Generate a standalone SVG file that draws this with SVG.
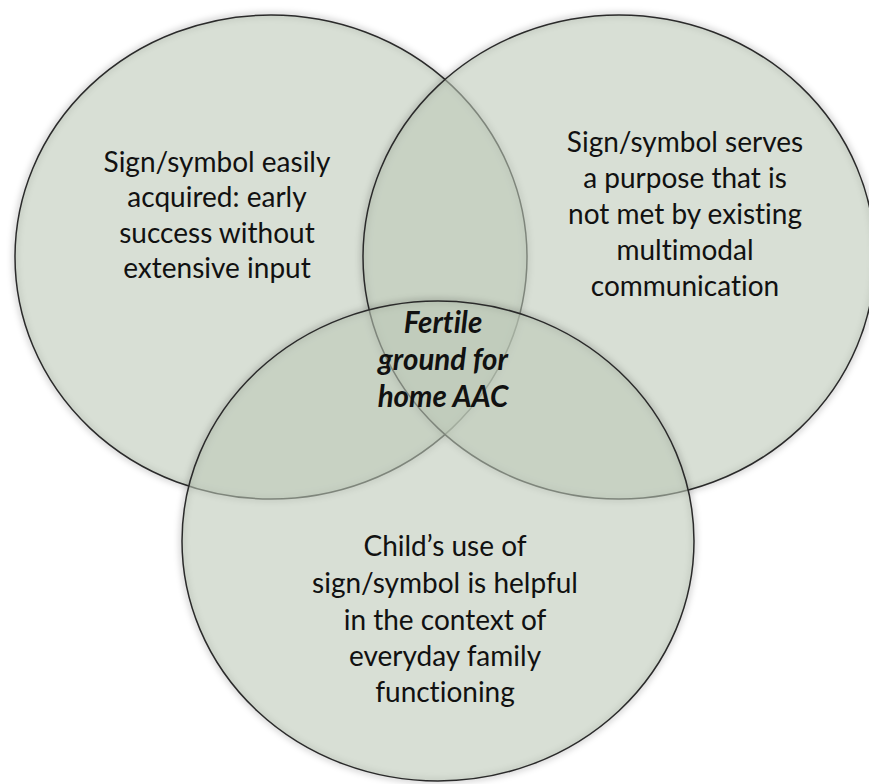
<svg xmlns="http://www.w3.org/2000/svg" width="869" height="784" viewBox="0 0 869 784">
  <defs>
    <filter id="soft" x="-10%" y="-10%" width="120%" height="120%">
      <feGaussianBlur stdDeviation="3"/>
    </filter>
    <style>
      .shadow { fill: none; stroke: #000; stroke-width: 5; stroke-opacity: 0.2; filter: url(#soft); }
      .circle { fill: #bcc8b7; fill-opacity: 0.58; stroke: #2a2a2a; stroke-width: 1.5; }
      .lbl { font-family: Lato, "Open Sans", "Liberation Sans", sans-serif; font-size: 28px; fill: #111; text-anchor: middle; font-variant-ligatures: none; }
      .center { font-weight: bold; font-style: italic; font-size: 29.5px; }
    </style>
  </defs>
  <rect width="869" height="784" fill="#fff"/>

  <g id="circle-left">
    <ellipse class="shadow" cx="271" cy="257" rx="256" ry="242"/>
    <ellipse class="circle" cx="271" cy="257" rx="256" ry="242"/>
  </g>
  <g id="circle-right">
    <ellipse class="shadow" cx="619" cy="257" rx="256" ry="242"/>
    <ellipse class="circle" cx="619" cy="257" rx="256" ry="242"/>
  </g>
  <g id="circle-bottom">
    <ellipse class="shadow" cx="438" cy="541" rx="256" ry="240"/>
    <ellipse class="circle" cx="438" cy="541" rx="256" ry="240"/>
  </g>

  <g id="connectors"></g>

  <g id="label-left">
    <text class="lbl" x="217" y="172">Sign/symbol easily</text>
    <text class="lbl" x="217" y="207">acquired: early</text>
    <text class="lbl" x="217" y="243">success without</text>
    <text class="lbl" x="217" y="278">extensive input</text>
  </g>
  <g id="label-right">
    <text class="lbl" x="685" y="152">Sign/symbol serves</text>
    <text class="lbl" x="685" y="188">a purpose that is</text>
    <text class="lbl" x="685" y="224">not met by existing</text>
    <text class="lbl" x="685" y="260">multimodal</text>
    <text class="lbl" x="685" y="296">communication</text>
  </g>
  <g id="label-center">
    <text class="lbl center" x="443" y="333">Fertile</text>
    <text class="lbl center" x="443" y="370">ground for</text>
    <text class="lbl center" x="443" y="407">home AAC</text>
  </g>
  <g id="label-bottom">
    <text class="lbl" x="445" y="556">Child’s use of</text>
    <text class="lbl" x="445" y="593">sign/symbol is helpful</text>
    <text class="lbl" x="445" y="630">in the context of</text>
    <text class="lbl" x="445" y="666">everyday family</text>
    <text class="lbl" x="445" y="702">functioning</text>
  </g>
</svg>
